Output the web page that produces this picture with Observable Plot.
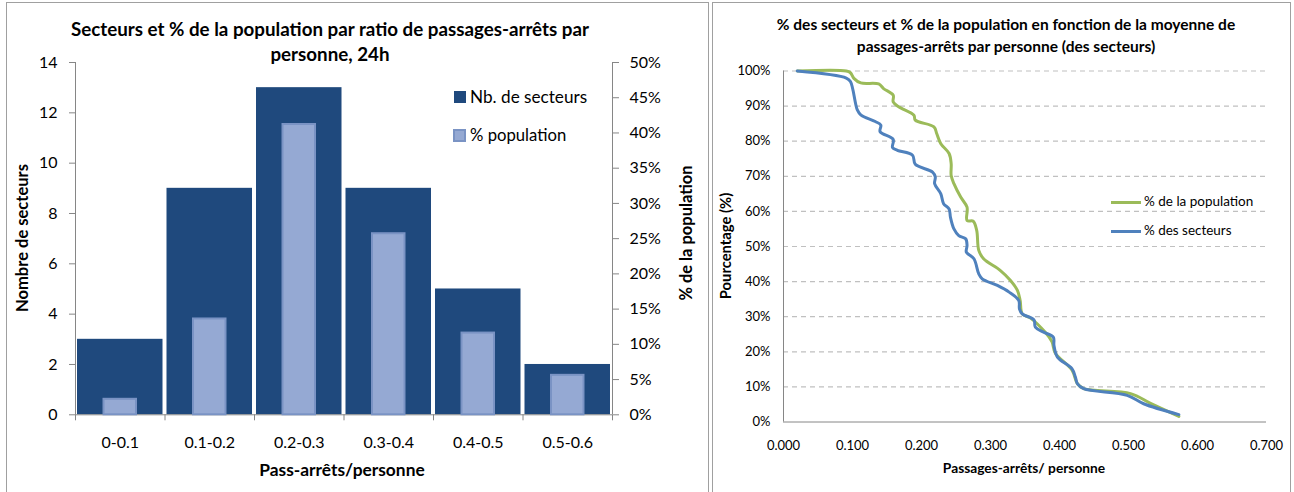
<!DOCTYPE html>
<html><head><meta charset="utf-8">
<script src="https://cdn.jsdelivr.net/npm/d3@7"></script>
<script src="https://cdn.jsdelivr.net/npm/@observablehq/plot@0.6"></script>
<style>
html,body{margin:0;padding:0;background:#fff;}
body{position:relative;width:1294px;height:492px;overflow:hidden;font-family:Lato,"Open Sans",sans-serif;color:#000;}
.panel{position:absolute;border:1.5px solid #a0a0a0;box-sizing:border-box;}
.host{position:absolute;top:0;}
.host svg{position:absolute;left:0;top:0;}
.lbl{position:absolute;white-space:nowrap;line-height:1;display:inline-block;}
.sw{position:absolute;box-sizing:border-box;}
</style></head><body>
<div class="panel" style="left:6px;top:2px;width:703px;height:500px"></div>
<div class="panel" style="left:712px;top:2px;width:579px;height:500px"></div>
<div id="left" class="host" style="left:0;width:710px;height:492px"></div>
<div id="right" class="host" style="left:710px;width:584px;height:492px"></div>
<script>
// ---------- data: left chart ----------
const categories = ["0-0.1", "0.1-0.2", "0.2-0.3", "0.3-0.4", "0.4-0.5", "0.5-0.6"];
const nbSecteurs = [3, 9, 13, 9, 5, 2];
const pctPopulation = [2.2, 13.6, 41.2, 25.7, 11.6, 5.6];
const countTicks = [0, 2, 4, 6, 8, 10, 12, 14];
const pctTicks = [0, 5, 10, 15, 20, 25, 30, 35, 40, 45, 50];

// ---------- data: right chart ----------
const ratioSecteurs = [0.020, 0.091, 0.097, 0.107, 0.112, 0.133, 0.141, 0.140, 0.159, 0.158, 0.165, 0.187, 0.191, 0.216, 0.220, 0.219, 0.228, 0.232, 0.240, 0.242, 0.247, 0.254, 0.264, 0.266, 0.265, 0.276, 0.283, 0.288, 0.310, 0.327, 0.341, 0.342, 0.346, 0.363, 0.365, 0.377, 0.391, 0.392, 0.397, 0.418, 0.423, 0.426, 0.435, 0.498, 0.522, 0.573];
const pctSecteurs = [100.0, 98.0, 97.0, 88.9, 87.5, 85.6, 84.6, 82.7, 80.5, 78.2, 77.4, 76.0, 73.4, 71.2, 69.8, 67.9, 65.0, 62.2, 60.7, 58.3, 55.0, 53.1, 52.2, 50.3, 48.4, 46.5, 42.2, 40.8, 38.9, 37.0, 34.6, 32.2, 30.8, 29.1, 27.0, 25.6, 24.2, 21.8, 18.5, 15.2, 12.8, 10.9, 9.5, 7.6, 5.2, 2.1];
const ratioPopulation = [0.020, 0.091, 0.097, 0.102, 0.112, 0.138, 0.145, 0.159, 0.159, 0.167, 0.189, 0.191, 0.218, 0.222, 0.228, 0.240, 0.243, 0.243, 0.247, 0.257, 0.266, 0.266, 0.275, 0.280, 0.283, 0.290, 0.314, 0.329, 0.339, 0.343, 0.346, 0.358, 0.380, 0.389, 0.394, 0.418, 0.426, 0.435, 0.503, 0.532, 0.573];
const pctPopCumul = [100, 100, 99.5, 97.9, 96.6, 96.3, 95.0, 93.1, 91.2, 89.8, 87.4, 86.0, 84.1, 82.2, 79.3, 76.5, 73.6, 70.2, 67.9, 64.0, 61.2, 57.4, 57.2, 54.6, 48.9, 46.5, 43.2, 40.3, 37.5, 34.6, 30.8, 29.6, 25.4, 22.9, 19.6, 14.8, 10.9, 9.5, 8.1, 5.3, 1.6];
const xTicksR = [0, 0.1, 0.2, 0.3, 0.4, 0.5, 0.6, 0.7];
const yTicksR = [0, 10, 20, 30, 40, 50, 60, 70, 80, 90, 100];

// ---------- helpers ----------
function label(text, x, y, o = {}) {
  const el = document.createElement("div");
  el.className = "lbl";
  el.textContent = text;
  let size = o.size || 16;
  el.style.fontSize = size + "px";
  el.style.fontWeight = o.bold ? "700" : "400";
  document.body.appendChild(el);
  if (o.w) { size = size * o.w / el.offsetWidth; el.style.fontSize = size + "px"; }
  el.style.left = x + "px";
  el.style.top = y + "px";
  if (o.leftAnchor) el.style.transform = "translate(0,-50%)";
  else el.style.transform = "translate(-50%,-50%)" + (o.rotate ? " rotate(-90deg)" : "");
  return size;
}
function box(x, y, w, h, css) {
  const el = document.createElement("div");
  el.className = "sw";
  Object.assign(el.style, {left: x + "px", top: y + "px", width: w + "px", height: h + "px"}, css);
  document.body.appendChild(el);
}

// ---------- left chart ----------
const rowsL = categories.map((c, i) => ({cat: c, i0: i, i1: i + 1, n: nbSecteurs[i], p: pctPopulation[i]}));
const boundaries = d3.range(categories.length + 1);
const centers = categories.map((c, i) => i + 0.5);
const axisGrey = "#868686";
const commonL = {
  width: 710, height: 492, marginLeft: 75, marginRight: 98, marginTop: 62, marginBottom: 77.7,
  style: {fontFamily: "Lato", fontSize: "16px", background: "transparent", color: "#000", overflow: "visible"}
};
const plotA = Plot.plot({
  ...commonL,
  x: {domain: [0, categories.length]},
  y: {domain: [0, 14]},
  marks: [
    Plot.rectY(rowsL, {x1: "i0", x2: "i1", y: "n", fill: "#1f497d", insetLeft: 2, insetRight: 2}),
    Plot.ruleX([0], {stroke: axisGrey}),
    Plot.ruleY([0], {stroke: axisGrey}),
    Plot.axisY(countTicks, {anchor: "left", tickSize: 6, tickPadding: 12, stroke: axisGrey, fill: "#000", fontSize: 16, label: null}),
    Plot.axisX(boundaries, {anchor: "bottom", tickSize: 6, tickFormat: () => "", stroke: axisGrey, label: null}),
    Plot.axisX(centers, {anchor: "bottom", tickSize: 0, tickPadding: 22, tickFormat: d => categories[Math.floor(d)], fill: "#000", fontSize: 16, label: null})
  ]
});
const plotB = Plot.plot({
  ...commonL,
  x: {domain: [0, categories.length], axis: null},
  y: {domain: [0, 50]},
  marks: [
    Plot.rectY(rowsL, {x1: "i0", x2: "i1", y: "p", fill: "#95a9d3", stroke: "#7a93c4", strokeWidth: 2, insetLeft: 28.5, insetRight: 28.5}),
    Plot.ruleX([categories.length], {stroke: axisGrey}),
    Plot.axisY(pctTicks, {anchor: "right", tickSize: 6, tickPadding: 11, tickFormat: d => d + "%", stroke: axisGrey, fill: "#000", fontSize: 16, label: null})
  ]
});
document.getElementById("left").append(plotA, plotB);

// ---------- right chart ----------
const sec = ratioSecteurs.map((x, i) => ({x, y: pctSecteurs[i]}));
const pop = ratioPopulation.map((x, i) => ({x, y: pctPopCumul[i]}));
const plotC = Plot.plot({
  width: 584, height: 492, marginLeft: 73, marginRight: 28, marginTop: 70.5, marginBottom: 70.5,
  x: {domain: [0, 0.7]},
  y: {domain: [0, 100]},
  style: {fontFamily: "Lato", fontSize: "13px", background: "transparent", color: "#000", overflow: "visible"},
  marks: [
    Plot.gridY(yTicksR.slice(1), {stroke: "#c0c0c0", strokeOpacity: 1, strokeWidth: 1.2, strokeDasharray: "5,4"}),
    Plot.ruleX([0], {stroke: axisGrey}),
    Plot.ruleY([0], {stroke: axisGrey}),
    Plot.axisY(yTicksR, {anchor: "left", tickSize: 0, tickPadding: 13, tickFormat: d => d + "%", fill: "#000", fontSize: 13, label: null}),
    Plot.axisX(xTicksR, {anchor: "bottom", tickSize: 0, tickPadding: 19, tickFormat: d3.format(".3f"), fill: "#000", fontSize: 13, label: null}),
    Plot.line(pop, {x: "x", y: "y", stroke: "#9bbb59", strokeWidth: 3, curve: "catmull-rom"}),
    Plot.line(sec, {x: "x", y: "y", stroke: "#4f81bd", strokeWidth: 3, curve: "catmull-rom"})
  ]
});
document.getElementById("right").append(plotC);

// ---------- texts: left ----------
const ts = label("Secteurs et % de la population par ratio de passages-arrêts par", 330, 29, {bold: true, size: 16, w: 518});
label("personne, 24h", 330, 54, {bold: true, size: ts});
label("Nombre de secteurs", 22, 238, {bold: true, size: 16, w: 148, rotate: true});
label("% de la population", 686, 233, {bold: true, size: 16, w: 135, rotate: true});
label("Pass-arrêts/personne", 342, 470, {bold: true, size: 16, w: 165});
box(454, 91, 12, 12, {background: "#1f497d"});
label("Nb. de secteurs", 470, 97, {size: 16, w: 117, leftAnchor: true});
box(453, 129, 13, 13, {background: "#95a9d3", border: "2px solid #7a93c4"});
label("% population", 470, 135, {size: 16, w: 96, leftAnchor: true});

// ---------- texts: right ----------
const tr = label("% des secteurs et % de la population en fonction de la moyenne de", 1006, 25, {bold: true, size: 14, w: 459});
label("passages-arrêts par personne (des secteurs)", 1006, 47, {bold: true, size: tr});
label("Pourcentage (%)", 725, 246, {bold: true, size: 13, w: 107, rotate: true});
label("Passages-arrêts/ personne", 1024, 468, {bold: true, size: 13, w: 162});
box(1111, 201, 30, 3, {background: "#9bbb59"});
label("% de la population", 1144, 202, {size: 13, w: 109, leftAnchor: true});
box(1111, 230, 30, 3, {background: "#4f81bd"});
label("% des secteurs", 1144, 231, {size: 13, w: 88, leftAnchor: true});
</script>
</body></html>
